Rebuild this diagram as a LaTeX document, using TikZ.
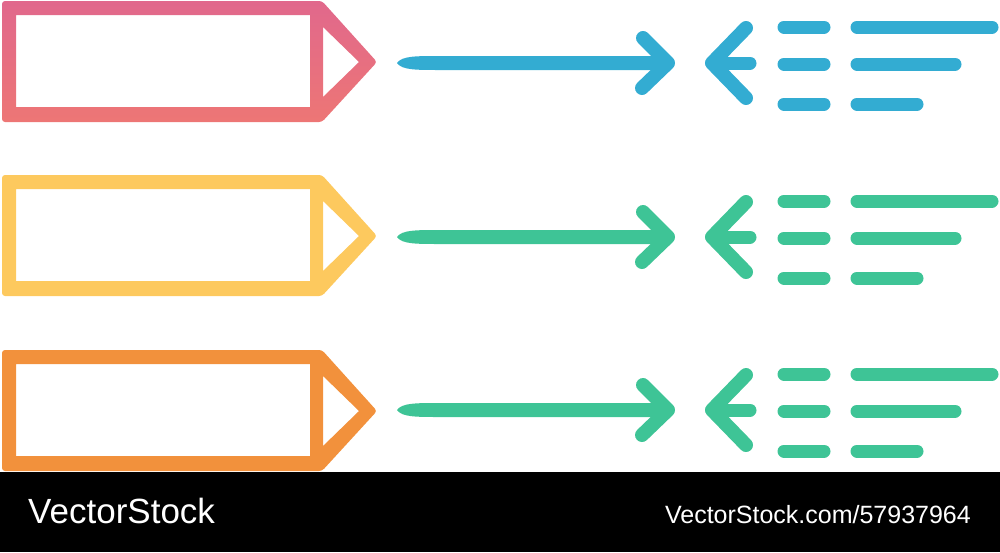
\documentclass[tikz,border=0pt]{standalone}
\usepackage{fontspec}
\setmainfont{Liberation Sans}
\usepackage{tikz}
\usetikzlibrary{calc}
\definecolor{penPink}{RGB}{225,104,140}
\definecolor{penPinkLow}{RGB}{237,118,117}
\definecolor{penYellow}{RGB}{253,201,94}
\definecolor{penOrange}{RGB}{242,145,60}
\definecolor{inkBlue}{RGB}{51,172,210}
\definecolor{inkGreen}{RGB}{62,196,150}
\tikzset{
  brush/.style={line width=13pt, line cap=round, line join=round},
  arm/.style={brush, line width=14pt},
  footer/.style={text=white, inner sep=0pt},
}
\newcommand{\DrawPencil}[2]{% #1=fill options, #2=row center
  \path[#1, even odd rule]
    (2,#2-61) [rounded corners=3pt] -- (322,#2-61) -- (377,#2) -- (322,#2+60)
      -- (2,#2+60) -- cycle
    [sharp corners] (16,#2-47) -- (310,#2-47) -- (310,#2+45) -- (16,#2+45) -- cycle
    (323,#2-35) -- (359,#2) -- (323,#2+35) -- cycle;
}
\newcommand{\DrawArrowRow}[2]{% #1=colour, #2=row center
  % long shaft, thin at its tail
  \fill[#1] (397,#2) .. controls (402,#2-7) and (415,#2-7) .. (440,#2-7)
    -- (668,#2-7) -- (668,#2+7) -- (440,#2+7)
    .. controls (415,#2+7) and (402,#2+7) .. cycle;
  % head pointing right
  \draw[arm, #1] (643,#2-25) -- (668,#2) -- (642,#2+25);
  % head pointing left
  \draw[arm, #1] (746,#2-35) -- (712,#2) -- (746,#2+35);
  \draw[brush, #1] (712,#2) -- (750,#2);
  % list marks
  \foreach \dy/\xe in {-36/992, 1/955, 41/917}{%
    \draw[brush, #1] (784,#2+\dy) -- (824,#2+\dy);
    \draw[brush, #1] (857,#2+\dy) -- (\xe,#2+\dy);
  }%
}

\begin{document}
\begin{tikzpicture}[x=1pt, y=-1pt]
  \useasboundingbox (0,0) rectangle (1000,552);

  % --- pencils ---
  \DrawPencil{top color=penPink, bottom color=penPinkLow}{62}
  \DrawPencil{fill=penYellow}{236}
  \DrawPencil{fill=penOrange}{411}

  % --- arrows and lists ---
  \DrawArrowRow{inkBlue}{63}
  \DrawArrowRow{inkGreen}{237}
  \DrawArrowRow{inkGreen}{410}

  % --- footer bar ---
  \fill[black] (0,472) rectangle (1000,552);
  \node[footer, anchor=base west, font=\fontsize{35}{40}\selectfont] (brand) at (28,523) {VectorStock};
  \node[footer, anchor=base east, font=\fontsize{25}{30}\selectfont] (stockid) at (971,523) {VectorStock.com/57937964};
\end{tikzpicture}
\end{document}
